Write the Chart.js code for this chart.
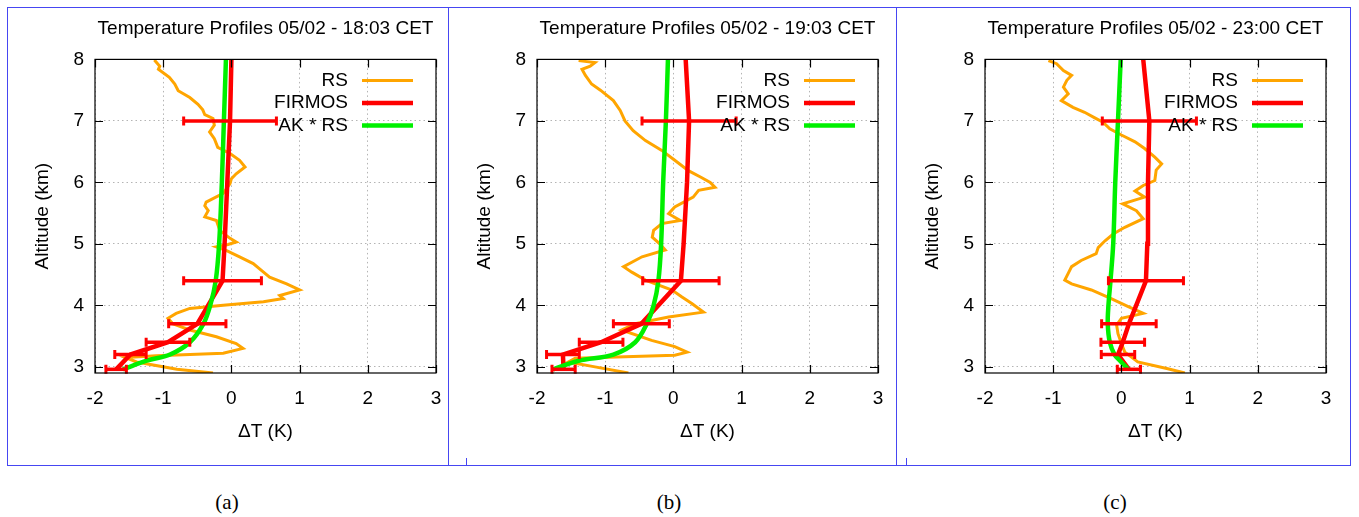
<!DOCTYPE html>
<html>
<head>
<meta charset="utf-8">
<script src="https://cdn.jsdelivr.net/npm/chart.js@4.4.0/dist/chart.umd.min.js"></script>
<style>
  body { margin: 0; background: #fff; width: 1359px; height: 517px; position: relative; overflow: hidden; }
  .frame { position: absolute; top: 7px; height: 459px; border: 1px solid #4646f2; box-sizing: border-box; }
  .nub { position: absolute; top: 458px; width: 1px; height: 8px; background: #4646f2; }
  canvas.panel { position: absolute; top: 8px; }
  .cap { position: absolute; top: 490px; font-family: "Liberation Serif", "Times New Roman", serif; font-size: 21px; transform: translateX(-50%); }
</style>
</head>
<body>
<div class="frame" style="left:7px;width:442px"></div>
<div class="frame" style="left:448px;width:449px"></div>
<div class="frame" style="left:896px;width:455px"></div>
<div class="nub" style="left:466px"></div>
<div class="nub" style="left:906px"></div>

<canvas class="panel" id="panelA" width="440" height="457" style="left:8px"></canvas>
<canvas class="panel" id="panelB" width="440" height="457" style="left:450px"></canvas>
<canvas class="panel" id="panelC" width="440" height="457" style="left:898px"></canvas>

<div class="cap" style="left:227px">(a)</div>
<div class="cap" style="left:669px">(b)</div>
<div class="cap" style="left:1115px">(c)</div>

<script>
// Axis ticks
const xTicks = [-2, -1, 0, 1, 2, 3];
const yTicks = [3, 4, 5, 6, 7, 8];

// FIRMOS retrieval levels (km) and AK * RS levels (km)
const firmosAlt = [2.96, 3.2, 3.4, 3.7, 4.4, 5, 6, 7, 8];
const akAlt = [2.96, 3.1, 3.2, 3.4, 3.7, 4.0, 4.4, 5, 6, 7, 8];

// (a) 18:03 CET
const rsAltA = [7.99, 7.89, 7.84, 7.71, 7.6, 7.49, 7.38, 7.27, 7.18, 7.1, 7.04, 6.93, 6.82, 6.71, 6.57, 6.47, 6.36, 6.25, 6.14, 6.06, 5.98, 5.82, 5.68, 5.62, 5.54, 5.44, 5.38, 5.22, 5.09, 5.03, 4.99, 4.95, 4.89, 4.79, 4.68, 4.57, 4.46, 4.35, 4.25, 4.16, 4.11, 4.06, 4.0, 3.95, 3.87, 3.79, 3.7, 3.6, 3.49, 3.38, 3.3, 3.22, 3.18, 3.15, 3.08, 2.96, 2.9];
const rsValA = [-1.13, -1.05, -1.07, -0.91, -0.83, -0.78, -0.61, -0.49, -0.42, -0.39, -0.27, -0.25, -0.32, -0.25, -0.2, -0.02, 0.12, 0.2, 0.07, 0, -0.02, -0.12, -0.37, -0.39, -0.34, -0.39, -0.22, -0.17, -0.02, 0.07, -0.05, -0.22, -0.07, 0.12, 0.32, 0.44, 0.56, 0.81, 1.0, 0.71, 0.76, 0.47, -0.12, -0.61, -0.81, -0.93, -0.86, -0.61, -0.22, 0.07, 0.17, -0.12, -1.1, -1.55, -1.39, -0.8, -0.27];
const firmosValA = [-1.69, -1.48, -0.93, -0.50, -0.13, -0.10, -0.06, -0.02, 0.0];
const firmosErrA = [0.15, 0.23, 0.32, 0.42, 0.57, null, null, 0.68, null];
const akValA = [-1.59, -1.24, -0.90, -0.61, -0.41, -0.31, -0.23, -0.18, -0.14, -0.11, -0.08];

// (b) 19:03 CET
const rsAltB = [7.98, 7.95, 7.89, 7.84, 7.74, 7.6, 7.5, 7.33, 7.17, 7.0, 6.84, 6.68, 6.52, 6.36, 6.19, 6.08, 6.0, 5.92, 5.87, 5.76, 5.6, 5.49, 5.38, 5.33, 5.22, 5.11, 5.0, 4.9, 4.79, 4.63, 4.54, 4.41, 4.25, 4.14, 4.03, 3.89, 3.81, 3.7, 3.6, 3.43, 3.33, 3.24, 3.19, 3.14, 3.08, 3.0, 2.9];
const rsValB = [-1.39, -1.15, -1.22, -1.34, -1.29, -1.2, -1.07, -0.88, -0.78, -0.71, -0.59, -0.41, -0.17, 0.02, 0.22, 0.41, 0.54, 0.61, 0.37, 0.29, 0.02, -0.07, 0.1, -0.17, -0.29, -0.31, -0.2, -0.12, -0.46, -0.73, -0.61, -0.41, -0.02, 0.12, 0.27, 0.44, -0.07, -0.56, -0.76, -0.32, 0.02, 0.2, 0.02, -1.44, -1.54, -1.15, -0.66];
const firmosValB = [-1.61, -1.62, -1.06, -0.47, 0.11, 0.15, 0.20, 0.23, 0.18];
const firmosErrB = [0.17, 0.24, 0.32, 0.41, 0.56, null, null, 0.69, null];
const akValB = [-1.76, -1.39, -0.88, -0.56, -0.39, -0.29, -0.22, -0.18, -0.15, -0.11, -0.08];

// (c) 23:00 CET
const rsAltC = [7.98, 7.93, 7.82, 7.74, 7.66, 7.55, 7.44, 7.33, 7.22, 7.14, 7.05, 6.98, 6.87, 6.77, 6.66, 6.55, 6.41, 6.3, 6.2, 6.03, 5.95, 5.86, 5.76, 5.65, 5.54, 5.41, 5.27, 5.16, 5.05, 4.94, 4.84, 4.73, 4.63, 4.52, 4.41, 4.35, 4.25, 4.11, 3.98, 3.87, 3.79, 3.68, 3.54, 3.38, 3.24, 3.08, 2.97, 2.9];
const rsValC = [-1.07, -0.95, -0.85, -0.73, -0.8, -0.85, -0.78, -0.88, -0.71, -0.54, -0.39, -0.27, -0.17, 0, 0.2, 0.34, 0.49, 0.59, 0.51, 0.49, 0.32, 0.2, 0.34, 0.02, 0.22, 0.32, 0.05, -0.12, -0.24, -0.34, -0.37, -0.59, -0.73, -0.78, -0.83, -0.73, -0.44, -0.15, 0.1, 0.32, 0, -0.07, -0.05, 0, 0.05, 0.24, 0.68, 0.93];
const firmosValC = [0.11, -0.05, 0.02, 0.11, 0.36, 0.38, 0.39, 0.41, 0.32];
const firmosErrC = [0.17, 0.245, 0.32, 0.40, 0.55, null, null, 0.69, null];
const akValC = [0.10, -0.02, -0.10, -0.17, -0.20, -0.19, -0.16, -0.12, -0.09, -0.05, -0.01];

const FONT = '"Liberation Sans", Arial, sans-serif';
const RS_COLOR = '#ffa500';
const FIRMOS_COLOR = '#ff0000';
const AK_COLOR = '#00f000';

function toPoints(alts, vals) {
    return alts.map((h, i) => ({ x: vals[i], y: h }));
}

// gnuplot-like decorations: error bars, frame, inward ticks, key
const profileDecor = {
    id: 'profileDecor',
    afterDatasetsDraw(chart, args, opts) {
        const { ctx, scales: { x, y } } = chart;
        ctx.save();
        ctx.strokeStyle = FIRMOS_COLOR;
        opts.err.forEach((e, i) => {
            if (e == null) return;
            const py = y.getPixelForValue(firmosAlt[i]);
            const x0 = x.getPixelForValue(opts.firmos[i] - e);
            const x1 = x.getPixelForValue(opts.firmos[i] + e);
            ctx.lineWidth = 3.5;
            ctx.beginPath();
            ctx.moveTo(x0, py);
            ctx.lineTo(x1, py);
            ctx.stroke();
            ctx.lineWidth = 3;
            ctx.beginPath();
            ctx.moveTo(x0, py - 4.5); ctx.lineTo(x0, py + 4.5);
            ctx.moveTo(x1, py - 4.5); ctx.lineTo(x1, py + 4.5);
            ctx.stroke();
        });
        ctx.restore();
    },
    afterDraw(chart) {
        const { ctx, chartArea: a, scales: { x, y } } = chart;
        ctx.save();
        ctx.strokeStyle = '#000';
        ctx.lineWidth = 1.2;
        ctx.strokeRect(a.left, a.top, a.right - a.left, a.bottom - a.top);
        ctx.beginPath();
        yTicks.forEach(v => {
            const py = Math.round(y.getPixelForValue(v)) + 0.5;
            ctx.moveTo(a.left, py); ctx.lineTo(a.left + 8, py);
            ctx.moveTo(a.right, py); ctx.lineTo(a.right - 8, py);
        });
        xTicks.forEach(v => {
            const px = Math.round(x.getPixelForValue(v)) + 0.5;
            ctx.moveTo(px, a.bottom); ctx.lineTo(px, a.bottom - 8);
            ctx.moveTo(px, a.top); ctx.lineTo(px, a.top + 8);
        });
        ctx.stroke();

        // key
        const keys = [
            { label: 'RS', color: RS_COLOR, width: 3 },
            { label: 'FIRMOS', color: FIRMOS_COLOR, width: 4.5 },
            { label: 'AK * RS', color: AK_COLOR, width: 4.5 }
        ];
        ctx.font = '19px ' + FONT;
        ctx.textAlign = 'right';
        ctx.textBaseline = 'middle';
        keys.forEach((k, i) => {
            const ky = a.top + 21 + i * 22.5;
            ctx.fillStyle = '#000';
            ctx.fillText(k.label, a.right - 88, ky);
            ctx.strokeStyle = k.color;
            ctx.lineWidth = k.width;
            ctx.beginPath();
            ctx.moveTo(a.right - 74, ky);
            ctx.lineTo(a.right - 23, ky);
            ctx.stroke();
        });
        ctx.restore();
    }
};

function makePanel(id, title, rsAlt, rsVal, firmosVal, firmosErr, akVal) {
    return new Chart(document.getElementById(id), {
        type: 'scatter',
        data: {
            datasets: [
                {
                    label: 'AK * RS',
                    data: toPoints(akAlt, akVal),
                    showLine: true,
                    borderColor: AK_COLOR,
                    borderWidth: 4.5,
                    pointRadius: 0,
                    tension: 0.35
                },
                {
                    label: 'FIRMOS',
                    data: toPoints(firmosAlt, firmosVal),
                    showLine: true,
                    borderColor: FIRMOS_COLOR,
                    borderWidth: 4.5,
                    pointRadius: 0,
                    tension: 0
                },
                {
                    label: 'RS',
                    data: toPoints(rsAlt, rsVal),
                    showLine: true,
                    borderColor: RS_COLOR,
                    borderWidth: 3,
                    pointRadius: 0,
                    tension: 0
                }
            ]
        },
        options: {
            responsive: false,
            animation: false,
            devicePixelRatio: 1,
            layout: { padding: { left: 0, right: 12, top: 0, bottom: 0 } },
            plugins: {
                legend: { display: false },
                tooltip: { enabled: false },
                title: {
                    display: true,
                    text: title,
                    color: '#000',
                    fullSize: false,
                    font: { size: 19, weight: 'normal', family: FONT },
                    padding: { top: 9.6, bottom: 19 }
                },
                profileDecor: { firmos: firmosVal, err: firmosErr }
            },
            scales: {
                x: {
                    type: 'linear',
                    min: -2,
                    max: 3,
                    afterBuildTicks: s => { s.ticks = xTicks.map(v => ({ value: v })); },
                    afterFit: s => { s.height = 92; s.paddingLeft = 0; s.paddingRight = 0; },
                    grid: { color: '#b4b4b4', drawTicks: false },
                    border: { display: false, dash: [1.5, 3] },
                    ticks: { color: '#000', font: { size: 19, family: FONT }, padding: 14 },
                    title: {
                        display: true, text: 'ΔT (K)', color: '#000',
                        font: { size: 19, family: FONT }, padding: { top: 0, bottom: 22 }
                    }
                },
                y: {
                    type: 'linear',
                    min: 2.9,
                    max: 8,
                    afterBuildTicks: s => { s.ticks = yTicks.map(v => ({ value: v })); },
                    afterFit: s => { s.width = 87; s.paddingTop = 0; s.paddingBottom = 0; },
                    grid: { color: '#b4b4b4', drawTicks: false },
                    border: { display: false, dash: [1.5, 3] },
                    ticks: { color: '#000', font: { size: 19, family: FONT }, padding: 11 },
                    title: {
                        display: true, text: 'Altitude (km)', color: '#000',
                        font: { size: 19, family: FONT }, padding: { top: 23.6, bottom: 0 }
                    }
                }
            }
        },
        plugins: [profileDecor]
    });
}

makePanel('panelA', 'Temperature Profiles 05/02 - 18:03 CET', rsAltA, rsValA, firmosValA, firmosErrA, akValA);
makePanel('panelB', 'Temperature Profiles 05/02 - 19:03 CET', rsAltB, rsValB, firmosValB, firmosErrB, akValB);
makePanel('panelC', 'Temperature Profiles 05/02 - 23:00 CET', rsAltC, rsValC, firmosValC, firmosErrC, akValC);
</script>
</body>
</html>
